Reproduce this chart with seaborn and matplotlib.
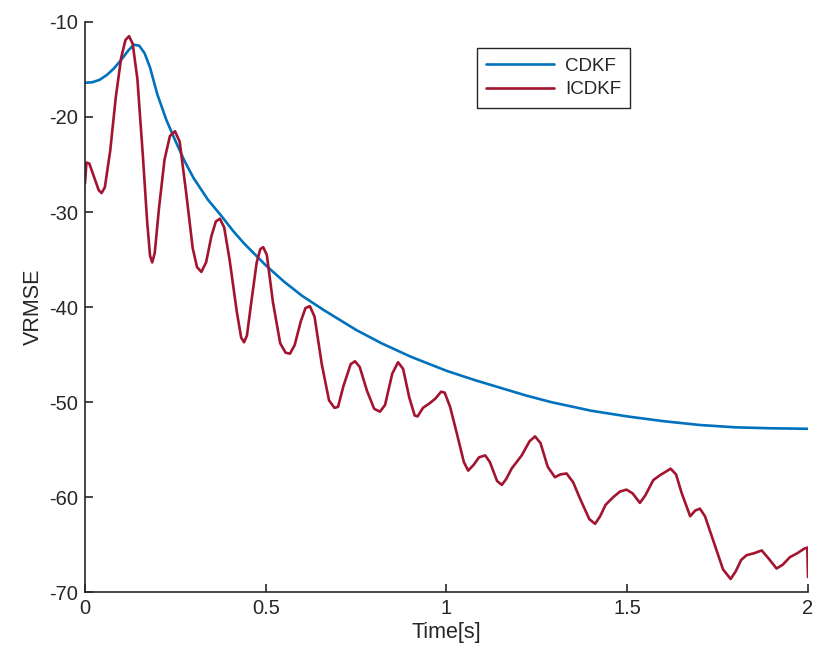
import matplotlib
matplotlib.use("Agg")
import matplotlib.pyplot as plt
import pandas as pd
import seaborn as sns

# CDKF curve
cdkf_t = [0.0, 0.02, 0.04, 0.06, 0.08, 0.1, 0.12, 0.135, 0.15, 0.165, 0.18, 0.2,
          0.225, 0.25, 0.275, 0.3, 0.34, 0.375, 0.41, 0.44, 0.5, 0.55, 0.6, 0.66,
          0.75, 0.82, 0.9, 1.0, 1.08, 1.15, 1.22, 1.29, 1.4, 1.5, 1.6, 1.7, 1.8, 1.9, 2.0]
cdkf_v = [-16.4, -16.35, -16.1, -15.6, -14.9, -14.0, -13.0, -12.4, -12.5, -13.3, -14.8, -17.6,
          -20.3, -22.5, -24.6, -26.4, -28.7, -30.3, -32.0, -33.3, -35.6, -37.3, -38.8, -40.3,
          -42.4, -43.8, -45.2, -46.7, -47.7, -48.5, -49.3, -50.0, -50.9, -51.5, -52.0, -52.4,
          -52.65, -52.75, -52.8]

# ICDKF curve
icdkf_t = [0.0, 0.004, 0.012, 0.025, 0.038, 0.046, 0.055, 0.07, 0.085, 0.1, 0.112, 0.122,
           0.132, 0.145, 0.16, 0.172, 0.18, 0.186, 0.193, 0.205, 0.22, 0.235, 0.249,
           0.262, 0.28, 0.298, 0.31, 0.322, 0.335, 0.35, 0.362, 0.373, 0.385, 0.4,
           0.42, 0.432, 0.44, 0.448, 0.46, 0.475, 0.485, 0.493, 0.503, 0.52, 0.54,
           0.555, 0.567, 0.58, 0.597, 0.61, 0.622, 0.635, 0.655, 0.675, 0.69, 0.7,
           0.715, 0.735, 0.747, 0.76, 0.78, 0.8, 0.816, 0.83, 0.85, 0.866, 0.88,
           0.897, 0.912, 0.92, 0.935, 0.954, 0.97, 0.985, 0.995, 1.01, 1.03, 1.048,
           1.06, 1.075, 1.09, 1.107, 1.12, 1.14, 1.153, 1.165, 1.18, 1.208, 1.23,
           1.245, 1.26, 1.28, 1.3, 1.315, 1.332, 1.35, 1.37, 1.395, 1.411, 1.425,
           1.44, 1.461, 1.48, 1.498, 1.515, 1.535, 1.55, 1.572, 1.59, 1.62, 1.635,
           1.65, 1.674, 1.688, 1.701, 1.715, 1.74, 1.765, 1.786, 1.8, 1.815, 1.83,
           1.85, 1.872, 1.89, 1.913, 1.93, 1.95, 1.97, 1.99, 1.998, 2.0]
icdkf_v = [-27.0, -24.8, -24.9, -26.3, -27.7, -28.0, -27.4, -23.5, -18.0, -13.8, -11.9, -11.5,
           -12.3, -16.0, -24.0, -31.0, -34.6, -35.3, -34.3, -29.5, -24.5, -22.0, -21.5,
           -22.6, -28.0, -33.8, -35.8, -36.3, -35.3, -32.5, -31.0, -30.7, -31.6, -35.0,
           -40.5, -43.2, -43.7, -43.0, -39.5, -35.3, -33.9, -33.7, -34.5, -39.5, -43.8,
           -44.8, -44.9, -44.0, -41.5, -40.1, -39.9, -41.0, -46.0, -49.8, -50.6, -50.5,
           -48.3, -46.0, -45.7, -46.3, -48.8, -50.7, -51.0, -50.3, -47.0, -45.8, -46.5,
           -49.5, -51.4, -51.5, -50.6, -50.1, -49.6, -48.9, -49.0, -50.5, -53.5, -56.3,
           -57.2, -56.6, -55.8, -55.6, -56.3, -58.3, -58.7, -58.1, -57.0, -55.6, -54.1,
           -53.6, -54.3, -56.8, -57.9, -57.6, -57.5, -58.4, -60.2, -62.3, -62.8, -62.0,
           -60.8, -60.0, -59.4, -59.2, -59.6, -60.6, -59.8, -58.2, -57.7, -57.0, -57.6,
           -59.5, -62.0, -61.4, -61.2, -62.0, -64.8, -67.6, -68.6, -67.8, -66.6, -66.1,
           -65.9, -65.6, -66.4, -67.5, -67.1, -66.3, -65.9, -65.4, -65.3, -68.4]

x_ticks = [0, 0.5, 1, 1.5, 2]
x_labels = ["0", "0.5", "1", "1.5", "2"]
y_ticks = [-70, -60, -50, -40, -30, -20, -10]

df = pd.concat([
    pd.DataFrame({"t": cdkf_t, "v": cdkf_v, "method": "CDKF"}),
    pd.DataFrame({"t": icdkf_t, "v": icdkf_v, "method": "ICDKF"}),
])

sns.set_style("ticks")
plt.rcParams["font.family"] = ["Liberation Sans", "DejaVu Sans"]
plt.rcParams["axes.unicode_minus"] = False
plt.rcParams["xtick.direction"] = "in"
plt.rcParams["ytick.direction"] = "in"

fig = plt.figure(figsize=(8.17, 6.64), dpi=100)
ax = fig.add_axes([0.104, 0.108, 0.885, 0.859])

sns.lineplot(data=df, x="t", y="v", hue="method", estimator=None, sort=False,
             palette={"CDKF": "#0072BD", "ICDKF": "#A2142F"}, linewidth=1.9, ax=ax)

ax.set_xlim(0, 2)
ax.set_ylim(-70, -10)
ax.set_xticks(x_ticks)
ax.set_xticklabels(x_labels)
ax.set_yticks(y_ticks)
ax.tick_params(labelsize=14.5, length=6, width=1.2, colors="#262626", pad=5)
ax.set_xlabel("Time[s]", fontsize=15.5, color="#262626", labelpad=3)
ax.set_ylabel("VRMSE", fontsize=15.5, color="#262626", labelpad=4)
for s in ["top", "right"]:
    ax.spines[s].set_visible(False)
for s in ["left", "bottom"]:
    ax.spines[s].set_color("#262626")
    ax.spines[s].set_linewidth(1.2)

leg = ax.legend(loc="upper left", bbox_to_anchor=(0.542, 0.954), borderaxespad=0,
                fontsize=13.5, fancybox=False, edgecolor="#262626", framealpha=1,
                handlelength=3.6, borderpad=0.5, labelspacing=0.35, handletextpad=0.6)
leg.get_frame().set_linewidth(1.0)

fig.savefig("out.png", dpi=100)
